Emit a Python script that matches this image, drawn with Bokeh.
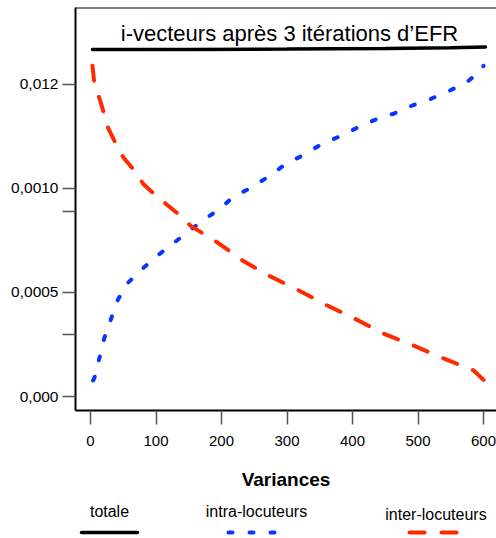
from bokeh.plotting import figure
from bokeh.models import Range1d, FixedTicker, Span, Label, CustomJSTickFormatter
from bokeh.layouts import column
from bokeh.embed import file_html
from bokeh.resources import INLINE

FONT = "Liberation Sans"

# ---------------- data ----------------
x_total = [3, 150, 300, 450, 550, 603]
total = [0.001668, 0.001668, 0.00167, 0.001673, 0.001677, 0.00168]

x_intra = [4, 6, 14, 21, 31, 41, 55, 78, 99, 124, 148, 173, 197, 218, 246, 273,
           299, 325, 351, 380, 406, 434, 463, 492, 519, 548, 574, 597, 600]
intra = [0.000077, 0.00009, 0.00019, 0.00028, 0.00037, 0.00046, 0.00054, 0.00061,
         0.00067, 0.00073, 0.00079, 0.00085, 0.0009, 0.00096, 0.001005, 0.00106,
         0.00112, 0.00116, 0.00121, 0.00125, 0.00129, 0.00133, 0.00136, 0.0014,
         0.00143, 0.00147, 0.00151, 0.00157, 0.00159]

x_inter = [3, 6, 15, 27, 38, 50, 66, 81, 102, 133, 153, 194, 234, 273, 318, 360,
           403, 447, 493, 539, 585, 600]
inter = [0.00159, 0.0015, 0.00142, 0.00129, 0.00122, 0.00115, 0.00109, 0.00102,
         0.00096, 0.00088, 0.00082, 0.00074, 0.00065, 0.00058, 0.00051, 0.00044,
         0.000375, 0.000303, 0.000245, 0.000183, 0.000125, 0.00008]

y_ticks = [0.0, 0.0005, 0.001, 0.0015]
y_tick_labels = ["0,000", "0,0005", "0,0010", "0,012"]
y_minor_ticks = [0.0003, 0.00089]
x_ticks = [0, 100, 200, 300, 400, 500, 600]

title_text = "i-vecteurs après 3 itérations d’EFR"
x_label = "Variances"
legend_labels = ["totale", "intra-locuteurs", "inter-locuteurs"]

C_TOTAL = "#000000"
C_INTRA = "#0A35FF"
C_INTER = "#FF2A00"

# ---------------- main figure ----------------
p = figure(width=496, height=494,
           x_range=Range1d(-22.9, 619.8), y_range=Range1d(-0.0000673, 0.00187),
           toolbar_location=None, output_backend="svg",
           min_border_left=75, min_border_right=0, min_border_top=7,
           min_border_bottom=84, outline_line_color=None,
           background_fill_color="white", border_fill_color="white")
p.grid.visible = False

# y axis
yax = p.yaxis[0]
yax.ticker = FixedTicker(ticks=y_ticks, minor_ticks=y_minor_ticks)
yax.formatter = CustomJSTickFormatter(
    args=dict(tv=y_ticks, tl=y_tick_labels),
    code="for (let i = 0; i < tv.length; i++) { if (Math.abs(tv[i] - tick) < 1e-9) return tl[i]; } return '';")
yax.axis_line_width = 2
yax.axis_line_color = "black"
yax.major_tick_line_color = "#555555"
yax.major_tick_line_width = 1.5
yax.major_tick_out = 13
yax.major_tick_in = 0
yax.minor_tick_line_color = "#555555"
yax.minor_tick_line_width = 1.5
yax.minor_tick_out = 13
yax.minor_tick_in = 0
yax.major_label_standoff = 4
yax.major_label_text_font = FONT
yax.major_label_text_font_size = "15.5px"
yax.major_label_text_color = "black"

# x axis
xax = p.xaxis[0]
xax.ticker = FixedTicker(ticks=x_ticks, minor_ticks=[])
xax.axis_line_width = 2
xax.axis_line_color = "black"
xax.major_tick_line_color = "#555555"
xax.major_tick_line_width = 1.5
xax.major_tick_out = 14
xax.major_tick_in = 0
xax.minor_tick_line_color = None
xax.major_label_standoff = 11
xax.major_label_text_font = FONT
xax.major_label_text_font_size = "15px"
xax.major_label_text_color = "black"
xax.axis_label = x_label
xax.axis_label_text_font = FONT
xax.axis_label_text_font_size = "19px"
xax.axis_label_text_font_style = "bold"
xax.axis_label_text_color = "black"
xax.axis_label_standoff = 20

# top border
p.add_layout(Span(location=p.y_range.end, dimension="width",
                  line_color="black", line_width=2))

# series
p.line(x_total, total, line_color=C_TOTAL, line_width=3.5, line_cap="round")
p.line(x_intra, intra, line_color=C_INTRA, line_width=4, line_dash="4 17",
       line_cap="round")
p.line(x_inter, inter, line_color=C_INTER, line_width=4, line_dash="15 17",
       line_cap="round")

# in-plot title
p.add_layout(Label(x=303.8, y=0.001745, text=title_text, text_align="center",
                   text_baseline="alphabetic", text_font=FONT,
                   text_font_size="22px", text_color="black"))

# ---------------- legend strip (frame aligned with main frame: x 75..496 px) ----------------
lg = figure(width=496, height=44, x_range=Range1d(75, 496), y_range=Range1d(44, 0),
            toolbar_location=None, output_backend="svg",
            min_border_left=75, min_border_right=0, min_border_top=0, min_border_bottom=0,
            x_axis_location=None, y_axis_location=None, outline_line_color=None,
            background_fill_color="white", border_fill_color="white")
lg.grid.visible = False

LINE_Y = 38
lg.line([81, 137], [LINE_Y, LINE_Y], line_color=C_TOTAL, line_width=3.5, line_cap="round")
lg.line([228, 276], [LINE_Y, LINE_Y], line_color=C_INTRA, line_width=4,
        line_dash="4 17", line_cap="round")
lg.line([409, 456], [LINE_Y, LINE_Y], line_color=C_INTER, line_width=4,
        line_dash="15 17", line_cap="round")

label_pos = [(109, 17), (256, 17), (435.5, 20)]
for txt, (lx, ly) in zip(legend_labels, label_pos):
    lg.add_layout(Label(x=lx, y=ly, text=txt, text_align="center",
                        text_baseline="alphabetic", text_font=FONT,
                        text_font_size="16px", text_color="black"))

layout = column(p, lg, spacing=0)
open("out.html", "w").write(file_html(layout, INLINE))
